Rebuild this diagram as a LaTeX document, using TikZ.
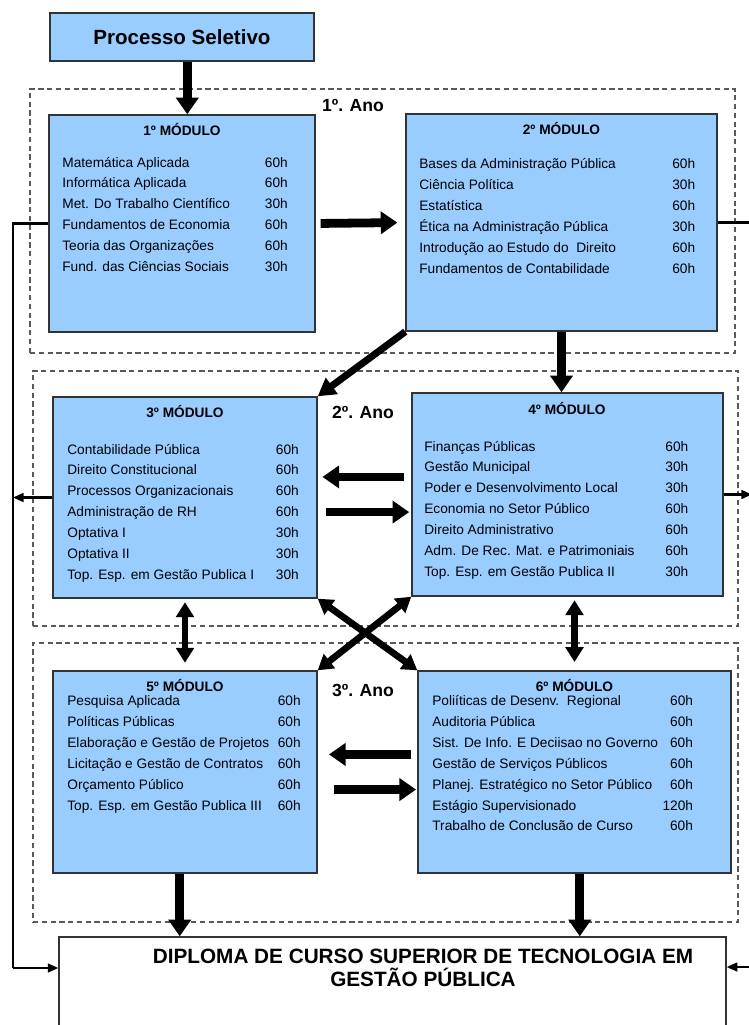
\documentclass[tikz,border=0pt]{standalone}
\usepackage{fontspec}
\setmainfont{Liberation Sans}
\usetikzlibrary{arrows.meta,fit,positioning}
\definecolor{modblue}{RGB}{153,204,255}

\begin{document}
\begin{tikzpicture}[x=0.02cm, y=-0.02cm,
    modbox/.style={draw=black!80, line width=0.8pt, fill=modblue, inner sep=0pt},
    yearbox/.style={draw=black!65, line width=0.7pt, dash pattern=on 3pt off 2pt, inner sep=0pt},
    modtitle/.style={anchor=base, inner sep=0pt, font=\bfseries\fontsize{7.8}{9}\selectfont},
    moditems/.style={anchor=base west, inner sep=0pt, font=\fontsize{7.8}{11.9}\selectfont},
    anolabel/.style={anchor=base, inner sep=0pt, font=\bfseries\fontsize{10}{12}\selectfont},
    bigarrow/.style={line width=5pt, -{Triangle[width=12.5pt,length=9.5pt]}},
    diagarrow/.style={line width=4pt, -{Triangle[width=11pt,length=10pt]}},
    dblarrow/.style={line width=3.8pt, {Triangle[width=10pt,length=8.5pt]}-{Triangle[width=10pt,length=8.5pt]}},
    thinline/.style={line width=1.2pt},
    thinarrow/.style={line width=1.2pt, -{Triangle[width=5pt,length=6pt]}}]
  \useasboundingbox (0,0) rectangle (749,1025);

  \node[yearbox, fit={(30,89) (735,353)}] (ano1) {};
  \node[yearbox, fit={(33,371) (738,626)}] (ano2) {};
  \node[yearbox, fit={(33,643) (738,922)}] (ano3) {};
  \node[anolabel] (lab1) at (353,111) {1º. Ano};
  \node[anolabel] (lab2) at (363,418) {2º. Ano};
  \node[anolabel] (lab3) at (363,696) {3º. Ano};

  \node[modbox, font=\bfseries\fontsize{11.7}{14}\selectfont, minimum width=5.28cm, minimum height=0.96cm] (ps) at (182,37) {Processo Seletivo};

  \node[modbox, fit={(49,115) (315,332)}] (m1) {};
  \node[modtitle] (h1) at (182,135) {1º MÓDULO};
  \node[moditems] (l1) at (62,167) {\begin{tabular}[t]{@{}p{115.3pt}@{}r@{}}
    Matemática Aplicada & 60h\\
    Informática Aplicada & 60h\\
    Met. Do Trabalho Científico & 30h\\
    Fundamentos de Economia & 60h\\
    Teoria das Organizações & 60h\\
    Fund. das Ciências Sociais & 30h
  \end{tabular}};

  \node[modbox, fit={(406,114) (717,331)}] (m2) {};
  \node[modtitle] (h2) at (561.5,134) {2º MÓDULO};
  \node[moditems] (l2) at (419,168.5) {\begin{tabular}[t]{@{}p{144pt}@{}r@{}}
    Bases da Administração Pública & 60h\\
    Ciência Política & 30h\\
    Estatística & 60h\\
    Ética na Administração Pública & 30h\\
    Introdução ao Estudo do\ \ Direito & 60h\\
    Fundamentos de Contabilidade & 60h
  \end{tabular}};

  \node[modbox, fit={(53,397) (317,598)}] (m3) {};
  \node[modtitle] (h3) at (185,417) {3º MÓDULO};
  \node[moditems] (l3) at (67,454) {\begin{tabular}[t]{@{}p{118.7pt}@{}r@{}}
    Contabilidade Pública & 60h\\
    Direito Constitucional & 60h\\
    Processos Organizacionais & 60h\\
    Administração de RH & 60h\\
    Optativa I & 30h\\
    Optativa II & 30h\\
    Top. Esp. em Gestão Publica I & 30h
  \end{tabular}};

  \node[modbox, fit={(412,393) (723,596)}] (m4) {};
  \node[modtitle] (h4) at (567,414) {4º MÓDULO};
  \node[moditems] (l4) at (424,451) {\begin{tabular}[t]{@{}p{137.2pt}@{}r@{}}
    Finanças Públicas & 60h\\
    Gestão Municipal & 30h\\
    Poder e Desenvolvimento Local & 30h\\
    Economia no Setor Público & 60h\\
    Direito Administrativo & 60h\\
    Adm. De Rec. Mat. e Patrimoniais & 60h\\
    Top. Esp. em Gestão Publica II & 30h
  \end{tabular}};

  \node[modbox, fit={(53,671) (317,873)}] (m5) {};
  \node[modtitle] (h5) at (185,691) {5º MÓDULO};
  \node[moditems] (l5) at (67,705.5) {\begin{tabular}[t]{@{}p{119.8pt}@{}r@{}}
    Pesquisa Aplicada & 60h\\
    Políticas Públicas & 60h\\
    Elaboração e Gestão de Projetos & 60h\\
    Licitação e Gestão de Contratos & 60h\\
    Orçamento Público & 60h\\
    Top. Esp. em Gestão Publica III & 60h
  \end{tabular}};

  \node[modbox, fit={(418,671) (731,873)}] (m6) {};
  \node[modtitle] (h6) at (574.5,691) {6º MÓDULO};
  \node[moditems] (l6) at (432,705.5) {\begin{tabular}[t]{@{}p{131pt}@{}r@{}}
    Poliíticas de Desenv.\ \ Regional & 60h\\
    Auditoria Pública & 60h\\
    Sist. De Info. E Deciisao no Governo & 60h\\
    Gestão de Serviços Públicos & 60h\\
    Planej. Estratégico no Setor Público & 60h\\
    Estágio Supervisionado & 120h\\
    Trabalho de Conclusão de Curso & 60h
  \end{tabular}};

  \node[draw=black!80, line width=0.8pt, fill=white, inner sep=0pt, fit={(59,937) (726,1045)}] (dip) {};
  \node[align=center, inner sep=0pt, font=\bfseries\fontsize{11.8}{13}\selectfont] (diptxt) at (423,968)
    {DIPLOMA DE CURSO SUPERIOR DE TECNOLOGIA EM\\GESTÃO PÚBLICA};

  \coordinate (lft) at (13,968);
  \coordinate (rgt) at (752,967);

  \draw[bigarrow] ([xshift=3pt]ps.south) -- ([xshift=3pt]m1.north);
  \draw[bigarrow, shorten <=2.8pt, shorten >=4.5pt] (m1.east) -- (m2.west);
  \draw[diagarrow] (m2.south west) -- (m3.north east);
  \draw[bigarrow] (m2.south) -- (m2.south |- m4.north);
  \draw[bigarrow, shorten <=4pt, shorten >=2.7pt] ([yshift=10pt]m4.west) -- ([yshift=10pt]m4.west -| m3.east);
  \draw[bigarrow, shorten <=4.5pt, shorten >=1.2pt] ([yshift=-10pt]m3.east |- m4.west) -- ([yshift=-10pt]m4.west);
  \draw[dblarrow, shorten <=2pt, shorten >=4.3pt] (m3.south) -- (m5.north);
  \draw[dblarrow, shorten <=2pt, shorten >=4.7pt] (m6.north |- m4.south) -- (m6.north);
  \draw[dblarrow] (m3.south east) -- (m6.north west);
  \draw[dblarrow] (m4.south west) -- (m5.north east);
  \draw[bigarrow, shorten <=3.4pt, shorten >=6.4pt] ([yshift=10pt]m6.west) -- ([yshift=10pt]m6.west -| m5.east);
  \draw[bigarrow, shorten <=9.2pt, shorten >=0.7pt] ([yshift=-10pt]m5.east |- m6.west) -- ([yshift=-10pt]m6.west);
  \draw[bigarrow] ([xshift=-3pt]m5.south) -- ([xshift=-3pt]m5.south |- dip.north);
  \draw[bigarrow] ([xshift=3pt]m6.south) -- ([xshift=3pt]m6.south |- dip.north);

  \draw[thinline] (m1.west) -| (lft);
  \draw[thinarrow] (lft) -- (lft -| dip.west);
  \draw[thinarrow] (m3.west) -- (m3.west -| lft);
  \draw[thinline] (m2.east) -| (rgt);
  \draw[thinarrow] (m4.east) -- (m4.east -| rgt);
  \draw[thinarrow] (rgt) -- (rgt -| dip.east);
\end{tikzpicture}
\end{document}
